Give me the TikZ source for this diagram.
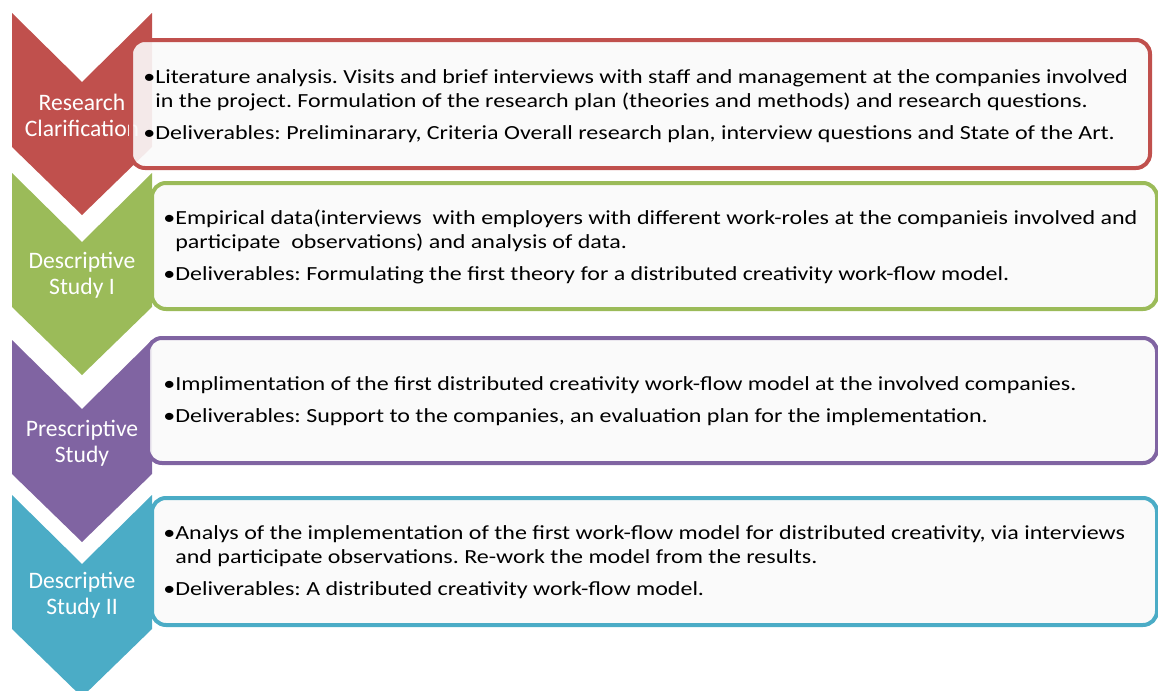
\documentclass[tikz,border=0pt]{standalone}
\usepackage{fontspec}
\setmainfont{Carlito}
\newfontfamily\widebody[FakeStretch=1.2]{Carlito}
\definecolor{clarred}{HTML}{C0504D}
\definecolor{descgreen}{HTML}{9BBB59}
\definecolor{prespurple}{HTML}{8064A2}
\definecolor{descblue}{HTML}{4BACC6}
% chevron: colour, top edge, tip
\newcommand{\chevron}[3]{%
  \fill[#1] (12,#2) -- (82,#2+69) -- (152,#2) -- (152,#3-68)
    -- (82,#3) -- (12,#3-68) -- cycle;}
\tikzset{
  stagebox/.style={draw=#1, line width=2pt, rounded corners=7pt,
    fill=white!98!black, fill opacity=0.9, draw opacity=1},
  stagelbl/.style={text=white, align=center, inner sep=0pt,
    font=\fontsize{11.8}{13}\selectfont},
  bullets/.style={anchor=base west, inner sep=0pt,
    font=\widebody\fontsize{10}{12.2}\selectfont\frenchspacing},
}

\begin{document}
\begin{tikzpicture}[x=0.5pt, y=-0.5pt]
\useasboundingbox (0,0) rectangle (1158,691);

% research clarification
\chevron{clarred}{13}{215}
\node[stagelbl] (clar) at (82,115) {Research\\Clarification};
\draw[stagebox=clarred] (131,40) rectangle (1150,168);
\node[bullets] (clartxt) at (143,83) {\begin{tabular}[t]{@{}l@{}l@{}}
  •&Literature analysis. Visits and brief interviews with staff and management at the companies involved\\
  &in the project. Formulation of the research plan (theories and methods) and research questions.\\[4pt]
  •&Deliverables: Preliminarary, Criteria Overall research plan, interview questions and State of the Art.
  \end{tabular}};

% descriptive study I
\chevron{descgreen}{173}{375}
\node[stagelbl] (dsone) at (82,275) {Descriptive\\Study I};
\draw[stagebox=descgreen] (152,183) rectangle (1157,309);
\node[bullets] (dsonetxt) at (163,224) {\begin{tabular}[t]{@{}l@{}l@{}}
  •&Empirical data(interviews\ \ with employers with different work-roles at the companieis involved and\\
  &participate\ \ observations) and analysis of data.\\[4pt]
  •&Deliverables: Formulating the first theory for a distributed creativity work-flow model.
  \end{tabular}};

% prescriptive study
\chevron{prespurple}{340}{542}
\node[stagelbl] (ps) at (82,443) {Prescriptive\\Study};
\draw[stagebox=prespurple] (148,338) rectangle (1157,463);
\node[bullets] (pstxt) at (163,390) {\begin{tabular}[t]{@{}l@{}l@{}}
  •&Implimentation of the first distributed creativity work-flow model at the involved companies.\\[4pt]
  •&Deliverables: Support to the companies, an evaluation plan for the implementation.
  \end{tabular}};

% descriptive study II
\chevron{descblue}{495}{697}
\node[stagelbl] (dstwo) at (82,595) {Descriptive\\Study II};
\draw[stagebox=descblue] (152,498) rectangle (1157,625);
\node[bullets] (dstwotxt) at (163,539) {\begin{tabular}[t]{@{}l@{}l@{}}
  •&Analys of the implementation of the first work-flow model for distributed creativity, via interviews\\
  &and participate observations. Re-work the model from the results.\\[4pt]
  •&Deliverables: A distributed creativity work-flow model.
  \end{tabular}};

\end{tikzpicture}
\end{document}
